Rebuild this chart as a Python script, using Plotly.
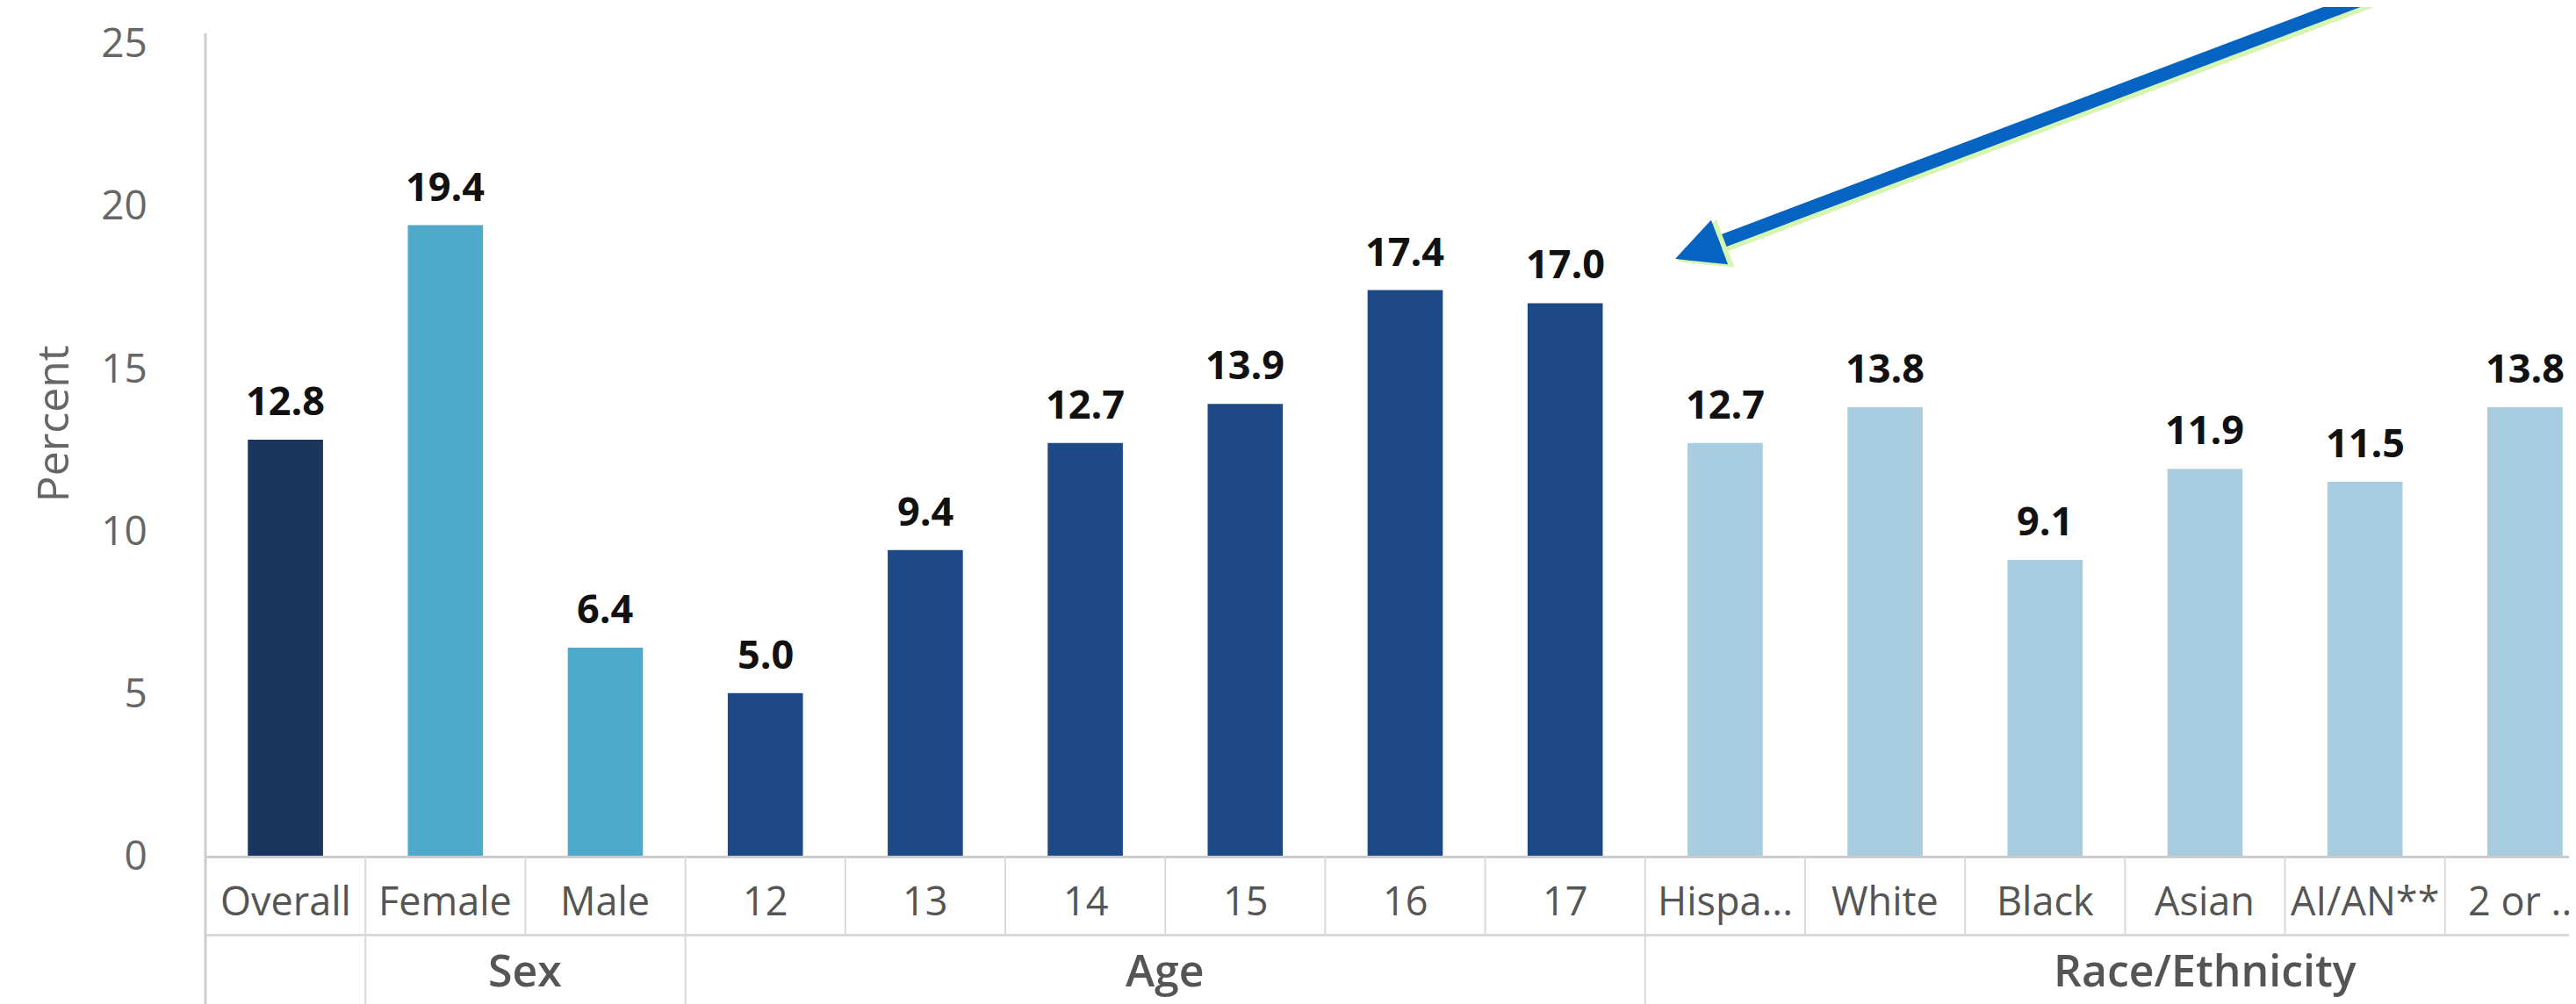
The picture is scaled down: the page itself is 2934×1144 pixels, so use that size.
import plotly.graph_objects as go

# --------------------------------------------------
# Data
# --------------------------------------------------
categories = ["Overall", "Female", "Male", "12", "13", "14", "15", "16", "17",
              "Hispa...", "White", "Black", "Asian", "AI/AN**", "2 or ..."]
values = [12.8, 19.4, 6.4, 5.0, 9.4, 12.7, 13.9, 17.4, 17.0,
          12.7, 13.8, 9.1, 11.9, 11.5, 13.8]
bar_group = ["Overall", "Sex", "Sex", "Age", "Age", "Age", "Age", "Age", "Age",
             "Race", "Race", "Race", "Race", "Race", "Race"]

# group header row (Race/Ethnicity has one more category cut off at the right edge)
group_labels = ["", "Sex", "Age", "Race/Ethnicity"]
group_first = [0, 1, 3, 9]
group_last = [0, 2, 8, 15]

group_colors = {
    "Overall": "#1a365f",
    "Sex": "#4eaacb",
    "Age": "#1d4a86",
    "Race": "#a8cde0",
}

FONT = "Open Sans, Noto Sans, sans-serif"
GRID = "#d9d9d9"
X_MAX = 14.363

# --------------------------------------------------
# Bars
# --------------------------------------------------
x_idx = list(range(len(categories)))
fig = go.Figure(go.Bar(
    x=x_idx,
    y=values,
    width=0.47,
    marker=dict(color=[group_colors[g] for g in bar_group], line=dict(width=0)),
    hovertext=categories,
))

# value labels above the bars
for i, v in zip(x_idx, values):
    fig.add_annotation(x=i, y=v, text=f"{v:.1f}", showarrow=False,
                       yanchor="bottom", yshift=13,
                       font=dict(family=FONT, size=45, color="#111111", weight="bold"))

# category row
row1_bottom = -0.0965
row2_bottom = -0.19
for i, lab in zip(x_idx, categories):
    fig.add_annotation(x=i, y=-0.054, yref="paper", text=lab, showarrow=False,
                       yanchor="middle",
                       font=dict(family=FONT, size=45, color="#555555"))
for i in range(len(categories) + 1):
    fig.add_shape(type="line", x0=i - 0.5, x1=i - 0.5, y0=0, y1=row1_bottom,
                  yref="paper", line=dict(color=GRID, width=2))
fig.add_shape(type="line", x0=0, x1=1, xref="paper", y0=row1_bottom, y1=row1_bottom,
              yref="paper", line=dict(color=GRID, width=3))

# group row
for lab, a, b in zip(group_labels, group_first, group_last):
    fig.add_annotation(x=(a + b) / 2, y=-0.139, yref="paper", text=lab, showarrow=False,
                       yanchor="middle",
                       font=dict(family=FONT, size=50, color="#555555", weight=600))
    fig.add_shape(type="line", x0=a - 0.5, x1=a - 0.5, y0=row1_bottom, y1=row2_bottom,
                  yref="paper", line=dict(color=GRID, width=2))

# left axis line running through the label rows
fig.add_shape(type="line", x0=0, x1=0, xref="paper", y0=row2_bottom, y1=1,
              yref="paper", line=dict(color="#cccccc", width=3))

# y title
fig.add_annotation(x=-0.0645, y=0.525, xref="paper", yref="paper", text="Percent",
                   textangle=-90, showarrow=False, xanchor="center", yanchor="middle",
                   font=dict(family=FONT, size=50, color="#666666"))

# --------------------------------------------------
# Blue call-out arrow (with faint green glow); its shaft runs off the top edge
# --------------------------------------------------
tip_px = (1900, 287)          # arrow tip, figure pixels
plot_l, plot_t, plot_w, plot_h = 226, 30, 2708, 937
tip_x = (tip_px[0] - plot_l) / plot_w
tip_y = 1 - (tip_px[1] - plot_t) / plot_h
slope = 0.378                 # rise over run of the shaft
base_dx, tail_dx = 44, 880    # shaft start (head base) and end, pixels right of tip

for color, w, sx, sy in [("#d6f5b0", 19, 2, 3), ("#0563c1", 15, 0, 0)]:
    fig.add_shape(type="line", xref="paper", yref="paper",
                  x0=tip_x + (base_dx + sx) / plot_w,
                  y0=tip_y + (base_dx * slope - sy) / plot_h,
                  x1=tip_x + (tail_dx + sx) / plot_w,
                  y1=tip_y + (tail_dx * slope - sy) / plot_h,
                  line=dict(color=color, width=w))

# arrow head only (short annotation arrow, hidden under the head)
for color, w, size, dx, dy in [("#d6f5b0", 19, 0.62, 2, -3), ("#0563c1", 15, 0.72, 0, 0)]:
    fig.add_annotation(x=tip_x, y=tip_y, xref="paper", yref="paper", text="",
                       showarrow=True, axref="pixel", ayref="pixel",
                       ax=52, ay=-52 * slope,
                       arrowhead=2, arrowsize=size, arrowwidth=w, arrowcolor=color,
                       standoff=0, xshift=dx, yshift=dy)

# --------------------------------------------------
# Layout
# --------------------------------------------------
fig.update_layout(
    width=2934,
    height=1144,
    margin=dict(l=plot_l, r=0, t=plot_t, b=177),
    plot_bgcolor="white",
    paper_bgcolor="white",
    showlegend=False,
    font=dict(family=FONT),
    xaxis=dict(range=[-0.5, X_MAX], showticklabels=False, showgrid=False,
               zeroline=False, showline=True, linecolor="#cccccc", linewidth=3,
               fixedrange=True),
    yaxis=dict(range=[0, 25.3], tickvals=[0, 5, 10, 15, 20, 25], showgrid=False,
               zeroline=False, showline=False, ticks="outside", ticklen=56,
               tickcolor="rgba(0,0,0,0)",
               tickfont=dict(family=FONT, size=46, color="#666666")),
)

fig.write_html("out.html")
